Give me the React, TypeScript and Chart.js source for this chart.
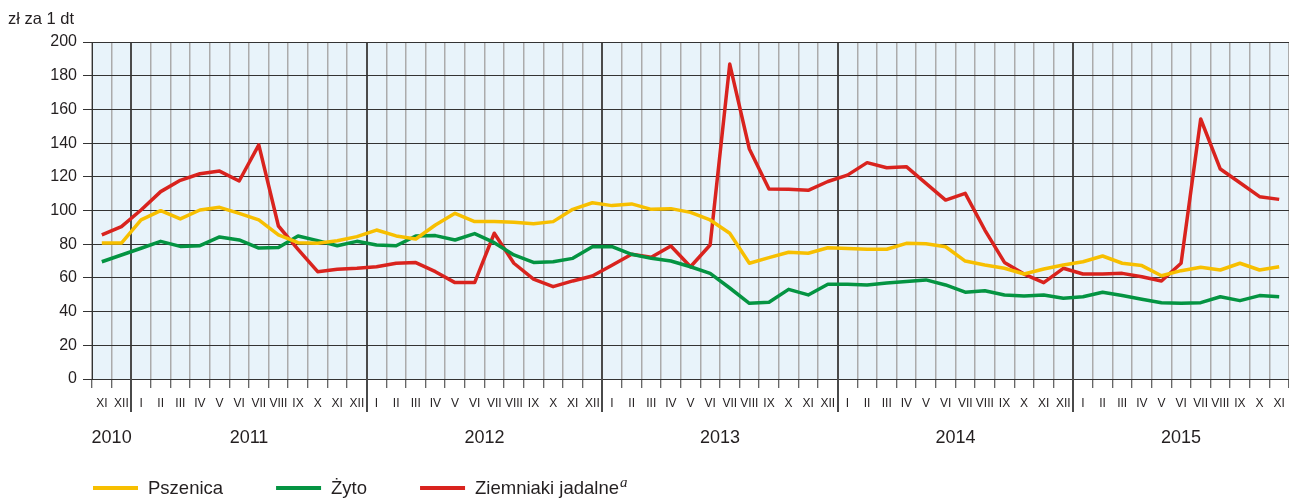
import React, { useEffect, useRef } from "react";
import { Chart, registerables } from "chart.js";

Chart.register(...registerables);

const FONT = "'Liberation Sans', Arial, Helvetica, sans-serif";

const monthLabels: string[] = [
  "XI", "XII",
  "I", "II", "III", "IV", "V", "VI", "VII", "VIII", "IX", "X", "XI", "XII",
  "I", "II", "III", "IV", "V", "VI", "VII", "VIII", "IX", "X", "XI", "XII",
  "I", "II", "III", "IV", "V", "VI", "VII", "VIII", "IX", "X", "XI", "XII",
  "I", "II", "III", "IV", "V", "VI", "VII", "VIII", "IX", "X", "XI", "XII",
  "I", "II", "III", "IV", "V", "VI", "VII", "VIII", "IX", "X", "XI",
];

const years: string[] = ["2010", "2011", "2012", "2013", "2014", "2015"];
const monthsPerYear: number[] = [2, 12, 12, 12, 12, 11];

const pszenica: number[] = [
  80.7, 80.7,
  94.4, 99.9, 95.0, 100.3, 101.9, 98.3, 94.4, 85.5, 80.9, 80.5, 82.0, 84.5,
  88.4, 84.9, 83.1, 91.4, 98.3, 93.4, 93.4, 93.0, 92.2, 93.4, 100.7, 104.6,
  102.9, 103.9, 100.7, 101.1, 98.9, 94.4, 86.5, 68.7, 72.0, 75.2, 74.6, 77.9,
  77.5, 77.0, 77.0, 80.5, 80.3, 78.5, 70.0, 67.7, 65.7, 62.3, 65.3, 67.7,
  69.6, 73.0, 68.7, 67.3, 61.3, 64.3, 66.3, 64.7, 68.7, 64.7, 66.6,
];

const zyto: number[] = [
  69.6, 73.6,
  77.6, 81.7, 78.7, 79.1, 84.3, 82.5, 77.7, 78.1, 84.9, 82.1, 79.1, 81.7,
  79.5, 79.1, 84.9, 85.1, 82.5, 86.3, 80.9, 73.6, 69.2, 69.6, 71.6, 78.5,
  78.5, 74.0, 71.6, 70.0, 66.6, 62.7, 54.0, 44.9, 45.5, 53.2, 49.9, 56.2,
  56.2, 55.8, 57.0, 57.8, 58.8, 55.8, 51.5, 52.4, 49.9, 49.3, 49.9, 47.9,
  48.8, 51.5, 49.5, 47.3, 45.3, 44.9, 45.3, 48.8, 46.5, 49.5, 48.8,
];

const ziemniaki: number[] = [
  85.5, 90.4,
  100.3, 111.2, 117.9, 121.8, 123.4, 117.5, 138.9, 90.8, 77.0, 63.7, 65.1, 65.7,
  66.6, 68.7, 69.1, 63.7, 57.2, 57.2, 86.5, 68.7, 59.3, 54.8, 58.2, 61.1,
  67.5, 74.0, 72.2, 78.9, 66.6, 79.5, 186.9, 136.5, 112.8, 112.6, 112.0, 117.2,
  121.0, 128.4, 125.4, 126.0, 116.1, 106.2, 110.2, 88.4, 69.2, 62.3, 57.2, 65.7,
  62.3, 62.3, 62.7, 60.7, 58.2, 68.7, 154.3, 124.6, 116.5, 108.2, 106.6,
];

const seriesNames: string[] = ["Pszenica", "Żyto", "Ziemniaki jadalne"];
const seriesColors: string[] = ["#F7BF00", "#049442", "#D9231E"];
const yTitle = "zł za 1 dt";

// indices of first month of each year (year boundaries)
const yearStarts: number[] = (() => {
  const out: number[] = [];
  let acc = 0;
  monthsPerYear.forEach((m) => {
    out.push(acc);
    acc += m;
  });
  return out;
})();

const decorPlugin = {
  id: "decor",
  beforeDraw(chart: any) {
    const { ctx, chartArea } = chart;
    ctx.save();
    ctx.fillStyle = "#E8F3FA";
    ctx.fillRect(chartArea.left, chartArea.top, chartArea.right - chartArea.left, chartArea.bottom - chartArea.top);
    ctx.restore();
  },
  afterDraw(chart: any) {
    const { ctx, chartArea } = chart;
    const xs = chart.scales.x;
    const step = xs.getPixelForValue(1) - xs.getPixelForValue(0);
    ctx.save();
    // year separator extensions
    ctx.strokeStyle = "#4a4a4a";
    ctx.lineWidth = 2;
    yearStarts.slice(1).forEach((idx) => {
      const x = Math.round(xs.getPixelForValue(idx) - step / 2);
      ctx.beginPath();
      ctx.moveTo(x, chartArea.bottom);
      ctx.lineTo(x, 412);
      ctx.stroke();
    });
    // year labels
    ctx.fillStyle = "#231F20";
    ctx.font = `18px ${FONT}`;
    ctx.textAlign = "center";
    ctx.textBaseline = "middle";
    years.forEach((y, i) => {
      const first = yearStarts[i];
      const last = first + monthsPerYear[i] - 1;
      const l = xs.getPixelForValue(first) - step / 2;
      const r = xs.getPixelForValue(last) + step / 2;
      ctx.fillText(y, (l + r) / 2, 438);
    });
    // y title
    ctx.textAlign = "left";
    ctx.textBaseline = "alphabetic";
    ctx.font = `16.5px ${FONT}`;
    ctx.fillText(yTitle, 8, 24);
    // legend
    let x = 93;
    const ly = 488;
    seriesNames.forEach((name, i) => {
      ctx.strokeStyle = seriesColors[i];
      ctx.lineWidth = 4;
      ctx.lineCap = "butt";
      ctx.beginPath();
      ctx.moveTo(x, ly);
      ctx.lineTo(x + 45, ly);
      ctx.stroke();
      const tx = x + 55;
      ctx.fillStyle = "#231F20";
      ctx.font = `18.5px ${FONT}`;
      ctx.fillText(name, tx, 494);
      const w = ctx.measureText(name).width;
      if (i === 2) {
        ctx.font = `italic 15px 'Liberation Serif', 'Times New Roman', serif`;
        ctx.fillText("a", tx + w + 1, 487);
      }
      x = tx + w + 53;
    });
    ctx.restore();
  },
};

export default function App() {
  const ref = useRef<HTMLCanvasElement | null>(null);
  useEffect(() => {
    document.body.style.margin = "0";
    document.body.style.overflow = "hidden";
    Chart.defaults.font.family = FONT;
    const chart = new Chart(ref.current as HTMLCanvasElement, {
      type: "line",
      data: {
        labels: monthLabels,
        datasets: [pszenica, zyto, ziemniaki].map((d, i) => ({
          label: seriesNames[i],
          data: d,
          borderColor: seriesColors[i],
          backgroundColor: seriesColors[i],
          borderWidth: 3.5,
          pointRadius: 0,
          tension: 0,
          fill: false,
          borderJoinStyle: "round" as const,
        })),
      },
      options: {
        animation: false,
        responsive: false,
        devicePixelRatio: 1,
        layout: { padding: { top: 42, left: 0, right: 0, bottom: 0 } },
        plugins: { legend: { display: false }, tooltip: { enabled: false } },
        scales: {
          x: {
            offset: true,
            grid: {
              offset: true,
              color: (c: any) => (yearStarts.includes(c.index) && c.index > 0 ? "#4a4a4a" : "#ABABAB"),
              lineWidth: (c: any) => (yearStarts.includes(c.index) && c.index > 0 ? 2 : 1.5),
              tickColor: "#333333",
              tickWidth: 1,
              tickLength: 9,
            },
            border: { color: "#333333", width: 1 },
            ticks: {
              autoSkip: false,
              maxRotation: 0,
              minRotation: 0,
              color: "#231F20",
              font: { size: 12, family: FONT },
              padding: 8,
            },
            afterFit: (s: any) => {
              s.height = 119;
              s.paddingRight = 0;
            },
          },
          y: {
            min: 0,
            max: 200,
            ticks: { stepSize: 20, color: "#231F20", font: { size: 16, family: FONT }, padding: 6 },
            grid: { color: "#333333", lineWidth: 1, tickLength: 9 },
            border: { color: "#333333", width: 1 },
            afterFit: (s: any) => {
              s.width = 92;
            },
          },
        },
      },
      plugins: [decorPlugin],
    });
    return () => chart.destroy();
  }, []);
  return <canvas ref={ref} width={1289} height={498} style={{ display: "block" }} />;
}
